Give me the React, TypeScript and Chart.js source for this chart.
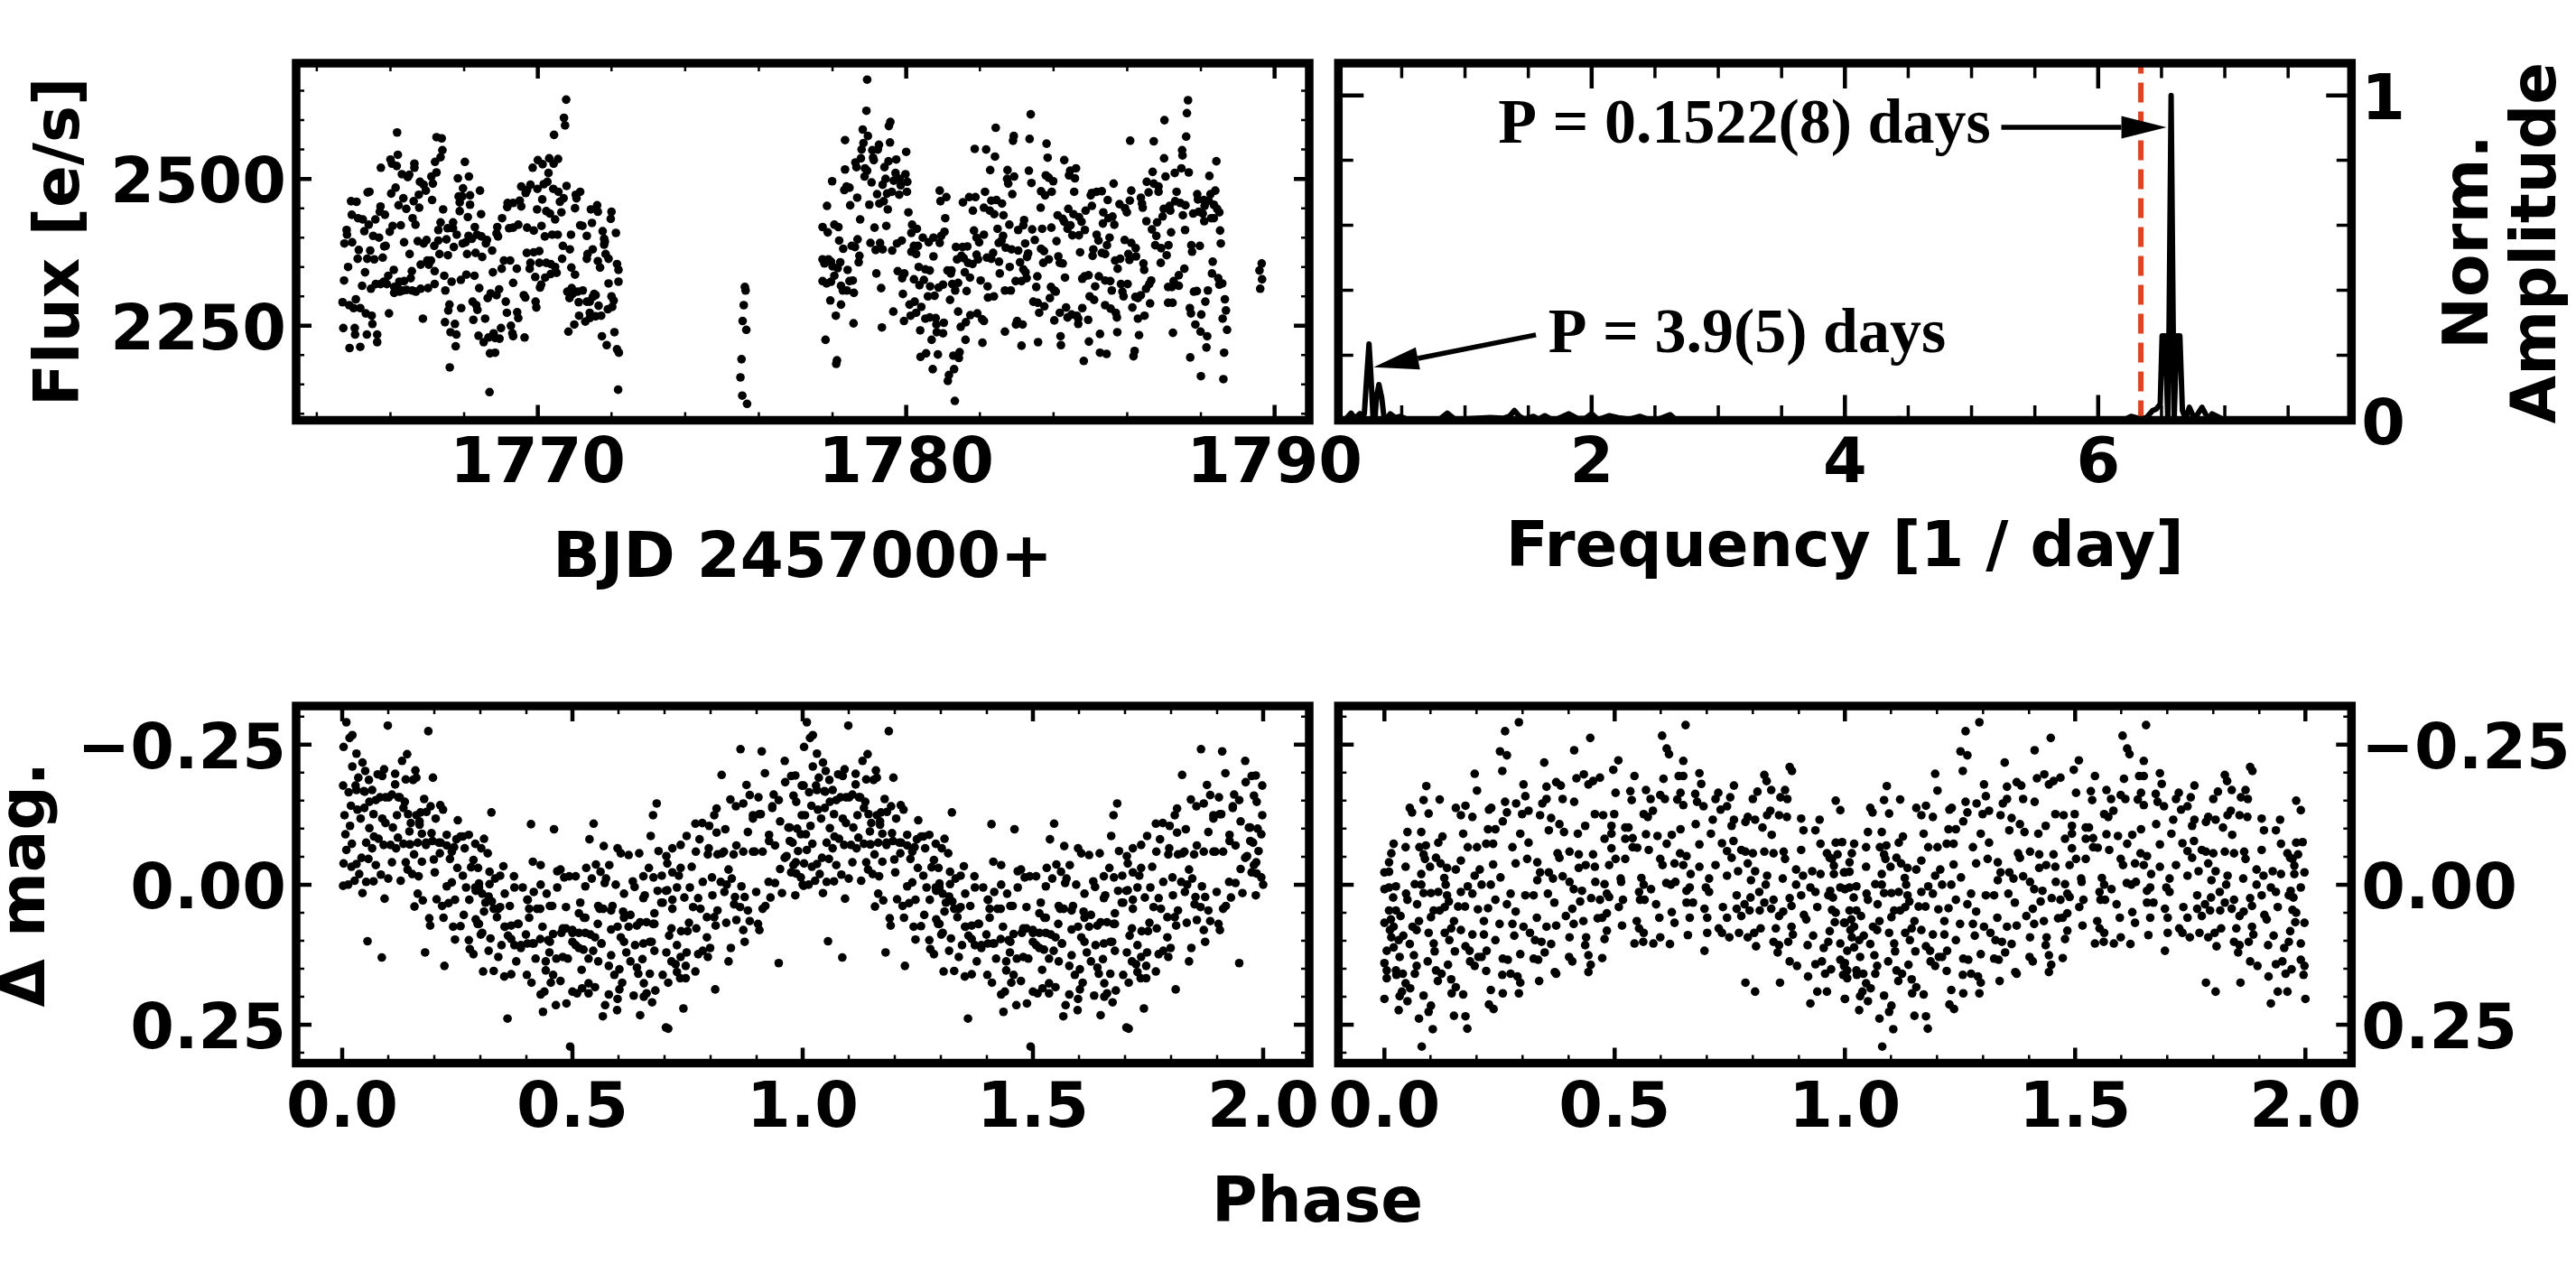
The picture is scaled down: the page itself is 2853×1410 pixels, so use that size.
import { useEffect, useRef } from "react";
import { Chart, registerables } from "chart.js";
Chart.register(...registerables);

const W = 2853, H = 1410;

// Light curve: [BJD - 2457000, flux]
const fluxPart1 = [[1764.70,2290],[1764.72,2246],[1764.74,2327],[1764.75,2390],[1764.81,2413],[1764.82,2405],[1764.85,2350],[1764.89,2212],[1764.88,2285],[1764.93,2462],[1764.96,2392],[1764.95,2439],[1765.00,2280],[1765.06,2295],[1765.08,2461],[1765.03,2246],[1765.04,2235],[1765.14,2379],[1765.11,2364],[1765.12,2433],[1765.18,2214],[1765.18,2280],[1765.23,2318],[1765.25,2431],[1765.29,2411],[1765.31,2341],[1765.36,2235],[1765.33,2271],[1765.38,2477],[1765.43,2478],[1765.41,2422],[1765.37,2364],[1765.45,2378],[1765.49,2267],[1765.47,2313],[1765.51,2253],[1765.53,2403],[1765.56,2363],[1765.59,2431],[1765.60,2321],[1765.64,2235],[1765.64,2222],[1765.69,2400],[1765.73,2453],[1765.71,2444],[1765.74,2519],[1765.73,2321],[1765.79,2366],[1765.82,2325],[1765.85,2439],[1765.83,2385],[1765.87,2386],[1765.90,2321],[1765.94,2335],[1765.96,2271],[1765.98,2410],[1766.06,2420],[1766.02,2475],[1766.00,2533],[1766.04,2526],[1766.09,2345],[1766.10,2306],[1766.10,2316],[1766.14,2485],[1766.18,2579],[1766.17,2522],[1766.20,2541],[1766.22,2455],[1766.18,2316],[1766.24,2325],[1766.25,2308],[1766.28,2421],[1766.37,2326],[1766.33,2310],[1766.44,2311],[1766.31,2508],[1766.35,2467],[1766.37,2392],[1766.43,2449],[1766.47,2503],[1766.51,2507],[1766.52,2372],[1766.55,2331],[1766.58,2343],[1766.59,2310],[1766.60,2433],[1766.63,2462],[1766.65,2526],[1766.65,2519],[1766.69,2308],[1766.68,2422],[1766.74,2394],[1766.77,2473],[1766.78,2451],[1766.80,2495],[1766.82,2354],[1766.82,2313],[1766.88,2262],[1766.90,2390],[1766.98,2396],[1766.90,2490],[1766.96,2480],[1767.00,2361],[1767.04,2354],[1767.10,2361],[1767.02,2314],[1767.11,2504],[1767.13,2464],[1767.15,2492],[1767.20,2321],[1767.20,2343],[1767.19,2386],[1767.21,2529],[1767.25,2511],[1767.25,2571],[1767.39,2569],[1767.30,2413],[1767.30,2395],[1767.33,2372],[1767.36,2537],[1767.36,2426],[1767.41,2549],[1767.43,2448],[1767.46,2335],[1767.48,2256],[1767.49,2310],[1767.52,2397],[1767.55,2416],[1767.70,2416],[1767.70,2426],[1767.56,2370],[1767.57,2276],[1767.60,2286],[1767.61,2179],[1767.63,2239],[1767.79,2235],[1767.66,2325],[1767.72,2384],[1767.75,2253],[1767.77,2215],[1767.80,2405],[1767.83,2501],[1767.85,2470],[1767.95,2470],[1767.88,2460],[1767.88,2445],[1767.92,2280],[1767.91,2328],[1767.96,2390],[1768.04,2392],[1768.06,2337],[1767.97,2484],[1768.02,2529],[1768.08,2372],[1768.10,2435],[1768.12,2403],[1768.13,2504],[1768.16,2472],[1768.16,2456],[1768.21,2398],[1768.23,2291],[1768.25,2260],[1768.28,2335],[1768.29,2418],[1768.31,2374],[1768.33,2285],[1768.36,2277],[1768.35,2405],[1768.47,2402],[1768.39,2233],[1768.41,2314],[1768.43,2480],[1768.46,2440],[1768.49,2367],[1768.53,2222],[1768.57,2262],[1768.59,2390],[1768.62,2396],[1768.64,2297],[1768.66,2230],[1768.69,2137],[1768.70,2203],[1768.84,2204],[1768.72,2305],[1768.76,2378],[1768.78,2341],[1768.80,2237],[1768.84,2229],[1768.96,2228],[1768.88,2302],[1768.90,2418],[1768.88,2407],[1768.92,2402],[1768.95,2312],[1769.00,2246],[1769.02,2347],[1769.03,2433],[1769.08,2361],[1769.25,2361],[1769.13,2291],[1769.16,2272],[1769.18,2459],[1769.33,2459],[1769.17,2452],[1769.22,2416],[1769.33,2417],[1769.47,2422],[1769.27,2250],[1769.31,2237],[1769.33,2232],[1769.33,2323],[1769.43,2347],[1769.44,2273],[1769.47,2263],[1769.51,2463],[1769.55,2453],[1769.55,2487],[1769.67,2476],[1769.71,2481],[1769.80,2490],[1769.64,2230],[1769.62,2302],[1769.66,2298],[1769.70,2374],[1769.71,2417],[1769.89,2412],[1769.78,2347],[1769.80,2357],[1769.86,2519],[1769.89,2375],[1770.04,2377],[1769.94,2291],[1769.96,2281],[1769.93,2333],[1770.00,2532],[1770.13,2525],[1769.99,2483],[1769.98,2448],[1770.04,2357],[1770.06,2315],[1770.09,2320],[1770.10,2420],[1770.12,2465],[1770.16,2491],[1770.26,2495],[1770.19,2402],[1770.20,2332],[1770.23,2357],[1770.35,2355],[1770.47,2350],[1770.51,2340],[1770.35,2338],[1770.23,2445],[1770.33,2441],[1770.29,2510],[1770.31,2535],[1770.43,2526],[1770.55,2534],[1770.39,2405],[1770.54,2405],[1770.42,2483],[1770.56,2478],[1770.44,2575],[1770.47,2431],[1770.60,2461],[1770.70,2467],[1770.64,2443],[1770.66,2364],[1770.68,2386],[1770.71,2604],[1770.74,2591],[1770.77,2635],[1770.78,2488],[1770.83,2240],[1770.80,2308],[1770.86,2297],[1770.92,2314],[1770.94,2304],[1771.08,2308],[1771.22,2310],[1770.87,2380],[1770.91,2349],[1771.01,2337],[1770.90,2405],[1770.99,2252],[1771.01,2450],[1771.03,2473],[1771.05,2467],[1771.15,2478],[1771.11,2290],[1771.12,2267],[1771.15,2421],[1771.21,2420],[1771.29,2257],[1771.33,2291],[1771.33,2403],[1771.35,2372],[1771.33,2364],[1771.41,2272],[1771.41,2263],[1771.41,2291],[1771.49,2299],[1771.53,2304],[1771.57,2302],[1771.44,2448],[1771.63,2444],[1771.61,2455],[1771.47,2425],[1771.49,2380],[1771.57,2266],[1771.72,2267],[1771.63,2360],[1771.69,2349],[1771.65,2284],[1771.74,2232],[1771.76,2411],[1771.80,2398],[1771.80,2388],[1771.82,2393],[1771.84,2372],[1771.92,2364],[1771.87,2217],[1771.92,2322],[1771.90,2278],[1772.00,2300],[1772.02,2282],[1772.06,2293],[1772.00,2444],[1771.98,2432],[1772.08,2239],[1772.12,2408],[1772.15,2355],[1772.19,2345],[1772.19,2325],[1772.15,2210],[1772.20,2204],[1772.18,2141]];
const fluxPart2 = [[1775.62,2316],[1775.64,2310],[1775.59,2285],[1775.56,2258],[1775.66,2243],[1775.53,2193],[1775.50,2162],[1775.55,2131],[1775.68,2117]];
const fluxPart3 = [[1777.73,2418],[1777.87,2409],[1777.73,2363],[1777.78,2356],[1777.89,2363],[1777.96,2359],[1778.00,2351],[1778.14,2348],[1778.21,2358],[1777.73,2326],[1777.84,2322],[1777.96,2325],[1778.05,2335],[1777.94,2293],[1777.99,2496],[1777.85,2454],[1777.81,2226],[1778.05,2422],[1778.16,2418],[1778.09,2267],[1778.12,2191],[1778.10,2185],[1778.18,2395],[1778.29,2381],[1778.23,2286],[1778.23,2318],[1778.28,2310],[1778.39,2310],[1778.46,2326],[1778.55,2327],[1778.58,2306],[1778.34,2566],[1778.34,2516],[1778.32,2481],[1778.38,2487],[1778.46,2485],[1778.48,2455],[1778.41,2345],[1778.52,2386],[1778.61,2384],[1778.57,2254],[1778.62,2528],[1778.65,2520],[1778.67,2468],[1778.68,2397],[1778.73,2369],[1778.71,2358],[1778.75,2431],[1778.77,2535],[1778.79,2550],[1778.84,2561],[1778.82,2584],[1778.87,2504],[1778.88,2518],[1778.94,2514],[1778.92,2616],[1778.94,2669],[1778.96,2573],[1779.00,2456],[1779.03,2391],[1779.06,2494],[1779.08,2549],[1779.23,2550],[1779.26,2558],[1779.10,2536],[1779.12,2532],[1779.14,2417],[1779.17,2379],[1779.29,2391],[1779.36,2380],[1779.19,2339],[1779.21,2474],[1779.27,2458],[1779.39,2462],[1779.32,2314],[1779.34,2247],[1779.36,2490],[1779.44,2500],[1779.41,2520],[1779.52,2530],[1779.46,2420],[1779.48,2475],[1779.61,2478],[1779.50,2448],[1779.53,2590],[1779.57,2597],[1779.56,2562],[1779.62,2378],[1779.65,2274],[1779.66,2497],[1779.71,2510],[1779.82,2500],[1779.73,2533],[1779.75,2390],[1779.88,2395],[1779.77,2343],[1779.89,2331],[1779.95,2339],[1779.81,2473],[1779.85,2489],[1779.91,2304],[1779.94,2258],[1779.98,2508],[1780.00,2546],[1780.03,2495],[1780.02,2478],[1780.06,2443],[1780.09,2286],[1780.23,2291],[1780.12,2267],[1780.27,2272],[1780.14,2408],[1780.16,2422],[1780.29,2415],[1780.14,2376],[1780.27,2372],[1780.21,2386],[1780.32,2386],[1780.21,2329],[1780.34,2350],[1780.52,2346],[1780.64,2344],[1780.36,2319],[1780.48,2328],[1780.38,2242],[1780.41,2282],[1780.39,2197],[1780.54,2203],[1780.45,2400],[1780.52,2262],[1780.64,2264],[1780.80,2263],[1780.59,2300],[1780.77,2301],[1780.61,2392],[1780.74,2400],[1780.91,2391],[1780.95,2403],[1781.04,2410],[1780.65,2317],[1780.69,2226],[1780.74,2368],[1780.72,2176],[1780.82,2252],[1781.02,2255],[1780.83,2239],[1781.00,2237],[1780.86,2201],[1780.88,2315],[1781.00,2320],[1780.91,2480],[1781.09,2469],[1780.93,2462],[1781.06,2433],[1781.12,2344],[1781.23,2344],[1781.21,2339],[1781.13,2156],[1781.16,2166],[1781.19,2294],[1781.25,2321],[1781.41,2323],[1781.33,2310],[1781.28,2199],[1781.45,2205],[1781.43,2195],[1781.30,2176],[1781.32,2122],[1781.35,2384],[1781.53,2384],[1781.66,2385],[1781.38,2363],[1781.50,2369],[1781.56,2365],[1781.41,2274],[1781.48,2248],[1781.62,2256],[1781.54,2460],[1781.59,2341],[1781.61,2226],[1781.64,2309],[1781.68,2357],[1781.80,2355],[1781.71,2469],[1781.88,2469],[1781.73,2332],[1781.74,2268],[1781.93,2271],[1781.81,2446],[1781.84,2412],[1781.86,2551],[1781.91,2400],[1781.98,2392],[1782.11,2405],[1781.91,2371],[1781.95,2363],[1782.02,2327],[1782.06,2261],[1782.11,2258],[1782.07,2221],[1782.11,2451],[1782.14,2478],[1782.27,2446],[1782.39,2440],[1782.17,2550],[1782.19,2366],[1782.31,2364],[1782.36,2374],[1782.21,2317],[1782.22,2298],[1782.38,2300],[1782.28,2515],[1782.31,2463],[1782.45,2464],[1782.60,2458],[1782.41,2538],[1782.43,2587],[1782.48,2415],[1782.52,2359],[1782.51,2391],[1782.59,2395],[1782.63,2403],[1782.54,2339],[1782.64,2438],[1782.68,2240],[1782.68,2310],[1782.84,2310],[1782.70,2383],[1782.86,2380],[1783.04,2378],[1782.75,2515],[1782.74,2500],[1782.77,2492],[1782.80,2422],[1782.81,2350],[1782.88,2474],[1782.90,2565],[1782.92,2573],[1782.93,2504],[1782.97,2326],[1783.13,2326],[1782.98,2252],[1783.01,2258],[1783.16,2252],[1783.04,2413],[1783.18,2421],[1783.20,2430],[1783.09,2358],[1783.18,2346],[1783.27,2331],[1783.24,2341],[1783.13,2216],[1783.23,2390],[1783.28,2367],[1783.31,2373],[1783.35,2568],[1783.38,2610],[1783.33,2514],[1783.40,2493],[1783.42,2414],[1783.69,2415],[1783.45,2291],[1783.57,2289],[1783.49,2396],[1783.53,2316],[1783.56,2334],[1783.58,2222],[1783.61,2272],[1783.65,2451],[1783.66,2479],[1783.77,2472],[1783.66,2381],[1783.74,2377],[1783.72,2357],[1783.87,2363],[1783.75,2283],[1783.81,2560],[1783.84,2536],[1783.79,2506],[1783.87,2502],[1783.99,2496],[1783.90,2297],[1783.95,2478],[1783.94,2417],[1783.93,2316],[1784.02,2310],[1784.06,2308],[1784.02,2259],[1784.08,2394],[1784.11,2438],[1784.25,2432],[1784.29,2427],[1784.13,2368],[1784.17,2357],[1784.25,2356],[1784.17,2272],[1784.34,2281],[1784.19,2232],[1784.20,2217],[1784.29,2532],[1784.31,2332],[1784.38,2264],[1784.49,2269],[1784.63,2267],[1784.67,2253],[1784.67,2262],[1784.38,2415],[1784.46,2421],[1784.40,2449],[1784.54,2440],[1784.69,2435],[1784.76,2427],[1784.42,2506],[1784.45,2514],[1784.61,2518],[1784.58,2501],[1784.51,2404],[1784.69,2404],[1784.56,2478],[1784.72,2375],[1784.78,2280],[1784.78,2330],[1784.84,2334],[1784.95,2336],[1784.82,2190],[1784.85,2413],[1784.87,2446],[1785.04,2454],[1784.94,2260],[1784.96,2223],[1784.98,2300],[1785.10,2294],[1785.01,2472],[1785.04,2476],[1785.17,2478],[1785.31,2479],[1785.06,2369],[1785.08,2380],[1785.13,2317],[1785.17,2405],[1785.22,2395],[1785.23,2334],[1785.26,2236],[1785.26,2204],[1785.44,2202],[1785.31,2374],[1785.40,2372],[1785.34,2424],[1785.35,2443],[1785.40,2285],[1785.55,2279],[1785.40,2327],[1785.54,2326],[1785.45,2387],[1785.52,2400],[1785.47,2464],[1785.49,2433],[1785.60,2436],[1785.58,2310],[1785.63,2492],[1785.65,2422],[1785.67,2361],[1785.81,2364],[1785.69,2272],[1785.72,2264],[1785.73,2239],[1785.74,2347],[1785.79,2457],[1785.94,2450],[1785.99,2443],[1785.83,2321],[1786.01,2321],[1785.87,2308],[1785.90,2300],[1785.93,2396],[1786.11,2391],[1786.23,2382],[1786.03,2372],[1786.06,2362],[1786.24,2368],[1786.08,2565],[1786.07,2463],[1786.11,2480],[1786.14,2281],[1786.17,2198],[1786.20,2207],[1786.22,2299],[1786.29,2297],[1786.37,2302],[1786.29,2262],[1786.32,2234],[1786.37,2468],[1786.40,2458],[1786.42,2451],[1786.44,2356],[1786.46,2345],[1786.47,2267],[1786.51,2313],[1786.60,2321],[1786.65,2327],[1786.53,2495],[1786.58,2477],[1786.72,2492],[1786.85,2487],[1786.85,2478],[1786.52,2428],[1786.62,2288],[1786.67,2414],[1786.69,2512],[1786.72,2564],[1786.79,2403],[1786.76,2387],[1786.92,2382],[1786.81,2426],[1786.91,2357],[1786.96,2436],[1786.99,2449],[1787.15,2454],[1787.00,2535],[1787.01,2600],[1787.04,2504],[1787.07,2370],[1787.11,2316],[1787.21,2316],[1787.11,2289],[1787.23,2289],[1787.12,2387],[1787.19,2409],[1787.17,2446],[1787.24,2238],[1787.29,2510],[1787.30,2462],[1787.44,2459],[1787.58,2455],[1787.26,2326],[1787.40,2336],[1787.40,2318],[1787.34,2478],[1787.47,2518],[1787.49,2549],[1787.50,2540],[1787.51,2438],[1787.55,2347],[1787.57,2413],[1787.60,2572],[1787.62,2612],[1787.65,2634],[1787.67,2511],[1787.70,2280],[1787.73,2271],[1787.71,2196],[1787.74,2387],[1787.76,2376],[1787.79,2441],[1787.94,2444],[1788.05,2441],[1787.81,2308],[1787.89,2309],[1787.85,2252],[1787.90,2474],[1787.92,2465],[1788.08,2464],[1788.21,2463],[1787.97,2386],[1787.99,2240],[1788.00,2164],[1788.01,2269],[1788.09,2428],[1788.12,2291],[1788.10,2454],[1788.15,2213],[1788.17,2232],[1788.19,2310],[1788.23,2505],[1788.26,2474],[1788.39,2480],[1788.28,2433],[1788.35,2433],[1788.32,2359],[1788.30,2339],[1788.35,2456],[1788.44,2449],[1788.50,2443],[1788.42,2530],[1788.47,2331],[1788.50,2320],[1788.58,2322],[1788.52,2412],[1788.54,2390],[1788.59,2262],[1788.61,2159],[1788.63,2204],[1788.65,2295],[1788.68,2276],[1788.71,2243]];
const fluxPart4 = [[1789.59,2344],[1789.65,2356],[1789.66,2329],[1789.61,2313]];

// Periodogram
const specFreq = [0,0.05,0.1,0.13,0.17,0.19,0.205,0.225,0.242,0.258,0.275,0.29,0.3,0.32,0.342,0.36,0.385,0.41,0.45,0.49,0.55,0.61,0.7,0.8,0.86,0.92,1.0,1.1,1.2,1.3,1.35,1.39,1.43,1.47,1.54,1.58,1.63,1.68,1.73,1.82,1.89,1.95,2.0,2.05,2.14,2.21,2.3,2.38,2.44,2.52,2.62,2.67,3.0,3.16,3.2,3.32,3.44,3.6,3.78,4.0,4.13,4.2,4.3,4.43,4.55,4.76,4.85,5.4,5.85,6.0,6.13,6.2,6.26,6.32,6.38,6.43,6.46,6.49,6.505,6.53,6.55,6.56,6.576,6.592,6.6,6.62,6.645,6.665,6.69,6.72,6.76,6.82,6.87,6.9,7.0,8];
const specAmp = [0,0,0.022,0.006,0.02,0.008,0.02,0.14,0.235,0.13,0,0.008,0.07,0.11,0.07,0.01,0.006,0.02,0.008,0.012,0.002,0.003,0.002,0.003,0.022,0.003,0.004,0.006,0.008,0.006,0.012,0.03,0.012,0.004,0.012,0.003,0.014,0.003,0.004,0.02,0.005,0.006,0.02,0.002,0.014,0.008,0.003,0.012,0.004,0.002,0.017,0,0,0.001,0.001,0.002,0.001,0,0.001,0,0.002,0.001,0,0.005,0,0.004,0,0,0.001,0,0.002,0,0.012,0.006,0.008,0.03,0.035,0.05,0.26,0.26,0,0.3,1,0.3,0,0.26,0.26,0.03,0.005,0.04,0.004,0.04,0.003,0.02,0,0];

// Phase-folded magnitudes: [phase, delta mag], one cycle (drawn over two)
const foldLong = [[0.009,-0.29],[0.003,-0.246],[0.002,-0.177],[0.005,-0.124],[0.007,-0.09],[0.009,-0.062],[0.003,-0.038],[0.002,0.002],[0.013,0],[0.016,-0.262],[0.022,-0.267],[0.022,-0.211],[0.014,-0.165],[0.019,-0.141],[0.017,-0.105],[0.021,-0.073],[0.02,-0.032],[0.027,-0.007],[0.031,-0.234],[0.029,-0.177],[0.033,-0.134],[0.031,-0.037],[0.037,-0.019],[0.035,-0.191],[0.044,-0.218],[0.04,-0.118],[0.042,-0.048],[0.044,0.015],[0.047,-0.167],[0.05,-0.203],[0.048,-0.137],[0.052,-0.075],[0.052,-0.005],[0.055,0.101],[0.059,-0.101],[0.058,-0.187],[0.059,-0.148],[0.057,-0.046],[0.068,-0.006],[0.065,-0.169],[0.068,-0.126],[0.069,-0.086],[0.065,-0.065],[0.073,-0.035],[0.077,-0.197],[0.082,-0.156],[0.073,-0.151],[0.079,-0.082],[0.084,-0.018],[0.086,0.13],[0.091,-0.206],[0.087,-0.194],[0.092,0.025],[0.09,-0.071],[0.087,-0.118],[0.094,-0.11],[0.1,-0.011],[0.099,-0.284],[0.105,-0.071],[0.101,-0.156],[0.108,-0.04],[0.11,-0.102],[0.115,-0.198],[0.117,-0.065],[0.115,-0.179],[0.119,-0.124],[0.125,-0.156],[0.127,-0.007],[0.121,-0.084],[0.13,-0.221],[0.133,-0.073],[0.133,-0.137],[0.138,-0.04],[0.141,-0.233],[0.138,-0.188],[0.142,-0.027],[0.146,-0.095],[0.147,-0.072],[0.152,-0.019],[0.154,-0.187],[0.149,-0.11],[0.159,-0.204],[0.157,0.039],[0.156,-0.054],[0.161,-0.191],[0.164,0.016],[0.166,-0.015],[0.168,-0.107],[0.173,-0.091],[0.173,-0.041],[0.17,-0.129],[0.175,0.028],[0.178,-0.153],[0.18,0.121],[0.182,-0.071],[0.183,-0.13],[0.187,-0.274],[0.189,0.06],[0.191,0.073],[0.192,-0.14],[0.194,-0.092],[0.197,-0.191],[0.199,-0.045],[0.201,-0.022],[0.203,-0.118],[0.205,0.026],[0.21,-0.075],[0.213,-0.142],[0.212,-0.056],[0.219,-0.134],[0.217,0.038],[0.222,0.145],[0.22,0.059],[0.227,-0.089],[0.227,0.003],[0.231,0.033],[0.234,-0.046],[0.238,-0.004],[0.241,0.075],[0.245,0.027],[0.243,-0.067],[0.251,-0.115],[0.25,-0.03],[0.245,0.098],[0.257,0.074],[0.257,-0.086],[0.262,-0.016],[0.266,-0.065],[0.264,0.054],[0.269,0.005],[0.275,-0.089],[0.275,0.099],[0.276,0.027],[0.277,0.115],[0.28,-0.031],[0.285,-0.044],[0.285,0.124],[0.289,-0.073],[0.289,0.005],[0.294,0.07],[0.295,-0.03],[0.297,-0.002],[0.301,0.089],[0.302,-0.065],[0.308,-0.082],[0.306,0.155],[0.308,0.048],[0.316,-0.056],[0.32,-0.001],[0.318,0.118],[0.322,0.096],[0.324,-0.129],[0.32,-0.023],[0.329,0.154],[0.329,0.043],[0.332,-0.011],[0.336,0.058],[0.339,0.129],[0.343,-0.016],[0.343,0.04],[0.346,0.108],[0.35,-0.033],[0.352,0.164],[0.353,0.016],[0.353,0.075],[0.359,0.239],[0.367,0.16],[0.364,0.038],[0.367,0.097],[0.373,-0.015],[0.374,0.005],[0.378,0.137],[0.383,0.07],[0.392,0.005],[0.388,0.113],[0.399,0.089],[0.401,0.161],[0.403,0.027],[0.41,-0.108],[0.411,0.175],[0.414,-0.041],[0.416,0.013],[0.413,0.105],[0.406,0.059],[0.42,0.132],[0.423,0.043],[0.431,-0.035],[0.431,0],[0.431,0.196],[0.439,0.191],[0.436,0.227],[0.442,0.137],[0.442,0.153],[0.435,0.075],[0.444,0.016],[0.456,0.038],[0.447,0.099],[0.45,0.121],[0.458,0.161],[0.453,0.175],[0.464,0.215],[0.46,-0.099],[0.467,0.005],[0.467,-0.024],[0.474,-0.027],[0.465,0.132],[0.474,0.172],[0.479,0.129],[0.49,0.132],[0.479,0.078],[0.482,-0.013],[0.493,-0.015],[0.507,-0.015],[0.487,0.212],[0.486,0.04],[0.5,0.191],[0.495,0.289],[0.5,0.081],[0.51,0.194],[0.507,0.108],[0.517,0.032],[0.521,0.185],[0.52,0.152],[0.528,0.003],[0.53,-0.03],[0.528,0.059],[0.524,0.116],[0.535,0.132],[0.535,0.194],[0.535,0.176],[0.537,-0.081],[0.546,-0.109],[0.549,0.183],[0.545,0.118],[0.542,-0.011],[0.549,0.094],[0.551,-0.036],[0.556,0.137],[0.555,0.07],[0.561,-0.023],[0.559,0.043],[0.568,-0.069],[0.566,0.235],[0.571,0.215],[0.57,-0.003],[0.563,0.105],[0.573,-0.011],[0.579,0.196],[0.58,-0.035],[0.579,0.145],[0.584,0.126],[0.587,0.038],[0.591,0.161],[0.594,0],[0.597,0.224],[0.598,0.204],[0.598,-0.065],[0.602,0.187],[0.605,-0.056],[0.608,0.175],[0.602,0.151],[0.612,0.016],[0.61,0.048],[0.605,0.094],[0.617,0.121],[0.622,-0.053],[0.626,0.137],[0.631,-0.006],[0.635,0.004],[0.633,0.198],[0.622,0.075],[0.64,0.148],[0.645,-0.056],[0.647,0.233],[0.643,0.159],[0.64,0.073],[0.652,0.133],[0.654,-0.015],[0.657,0.019],[0.655,0.2],[0.661,0.194],[0.655,0.176],[0.666,-0.03],[0.67,-0.087],[0.673,0.21],[0.675,-0.124],[0.676,-0.013],[0.683,-0.145],[0.68,0.189],[0.668,0.159],[0.678,0.118],[0.687,-0.06],[0.685,0.011],[0.678,0.051],[0.668,0.102],[0.675,0.07],[0.694,-0.016],[0.696,0.161],[0.703,0.255],[0.708,0.257],[0.704,-0.051],[0.706,-0.038],[0.704,0.121],[0.696,0.032],[0.706,0.01],[0.708,0.175],[0.717,-0.022],[0.715,0.078],[0.715,0.137],[0.717,-0.065],[0.71,0.091],[0.717,0.043],[0.724,0.142],[0.727,0.156],[0.735,-0.071],[0.741,0.221],[0.734,0.167],[0.735,-0.03],[0.727,0.005],[0.735,0.129],[0.727,0.108],[0.736,0.083],[0.75,0.083],[0.743,0.023],[0.746,0.145],[0.748,-0.087],[0.746,0.167],[0.748,0.121],[0.755,0.005],[0.759,-0.032],[0.753,0.068],[0.762,0.04],[0.767,-0.109],[0.782,-0.11],[0.767,0.155],[0.769,0.078],[0.773,0.024],[0.768,-0.059],[0.776,-0.081],[0.773,0.124],[0.783,0.118],[0.778,0.043],[0.783,-0.005],[0.792,0.058],[0.794,0.129],[0.792,0.094],[0.797,-0.105],[0.796,-0.065],[0.799,0.113],[0.803,-0.013],[0.804,0.019],[0.81,0.187],[0.808,-0.124],[0.808,0.058],[0.813,-0.136],[0.815,0.046],[0.813,-0.093],[0.824,-0.196],[0.825,-0.056],[0.822,-0.005],[0.811,0.073],[0.832,-0.099],[0.835,0],[0.834,0.068],[0.83,0.013],[0.839,0.137],[0.844,0.113],[0.843,-0.152],[0.846,-0.011],[0.839,-0.027],[0.855,-0.14],[0.853,0.022],[0.856,0.063],[0.851,0.035],[0.865,-0.242],[0.871,-0.145],[0.867,0.003],[0.864,0.04],[0.856,-0.07],[0.871,0.081],[0.874,0.102],[0.878,-0.178],[0.874,0.022],[0.885,-0.16],[0.881,0.046],[0.885,0.065],[0.881,-0.094],[0.892,-0.124],[0.904,-0.156],[0.899,0.013],[0.903,0.07],[0.906,0.081],[0.896,-0.059],[0.911,-0.238],[0.918,-0.199],[0.909,-0.126],[0.913,0.043],[0.919,0.038],[0.926,-0.005],[0.93,0.023],[0.934,-0.137],[0.937,-0.161],[0.948,0.14],[0.94,-0.003],[0.948,-0.151],[0.951,-0.113],[0.955,0.015],[0.951,-0.028],[0.962,-0.183],[0.961,-0.221],[0.965,-0.051],[0.975,-0.022],[0.975,-0.194],[0.969,-0.102],[0.972,-0.078],[0.927,-0.089],[0.984,-0.195],[0.998,-0.177],[0.98,-0.159],[0.986,-0.148],[0.998,-0.124],[0.988,-0.1],[0.978,-0.075],[0.986,-0.02],[0.996,-0.013],[1,0],[0.984,0.019],[0.99,-0.06],[0.985,-0.04],[0.996,-0.09],[0.98,-0.035],[0.031,-0.169],[0.049,-0.166],[0.094,-0.156],[0.108,-0.161],[0.122,-0.156],[0.136,-0.148],[0.143,-0.126],[0.161,-0.124],[0.168,-0.113],[0.147,-0.072],[0.164,-0.075],[0.182,-0.075],[0.196,-0.078],[0.214,-0.075],[0.227,-0.07],[0.238,-0.059],[0.248,-0.081],[0.262,-0.086],[0.29,0.011],[0.297,0.005],[0.304,0.016],[0.311,0.032],[0.318,0.021],[0.325,0.03],[0.339,0.043],[0.297,0.070],[0.304,0.086],[0.29,0.062],[0.353,0.075],[0.367,0.073],[0.381,0.07],[0.36,0.091],[0.374,0.108],[0.388,0.108],[0.402,0.105],[0.416,0.105],[0.43,0.097],[0.451,0.102],[0.458,0.088],[0.476,0.086],[0.486,0.078],[0.5,0.086],[0.514,0.086],[0.528,0.086],[0.5,0.102],[0.514,0.113],[0.539,0.089],[0.563,0.105],[0.584,0.08],[0.598,0.075],[0.612,0.102],[0.636,0.108],[0.654,0.105],[0.672,0.102],[0.626,0.054],[0.612,0.059],[0.647,0.067],[0.661,0.067],[0.678,0.07],[0.567,0.043],[0.584,0.046],[0.556,0.038],[0.514,0.051],[0.525,0.059],[0.402,0.027],[0.406,0.043],[0.43,0.043],[0.451,0.038],[0.654,0.024],[0.693,0.032],[0.703,0.011],[0.717,0.027],[0.731,-0.016],[0.794,-0.054],[0.815,-0.054],[0.829,-0.059],[0.85,-0.054],[0.871,-0.059],[0.892,-0.059],[0.913,-0.059],[0.927,-0.078],[0.94,-0.07],[0.961,-0.048],[0.972,-0.102],[0.934,-0.14],[0.892,-0.118],[0.906,-0.126]];

const foldShort = [[0,-0.022],[0.01,-0.023],[0,0.008],[0.01,0.005],[0,0.068],[0,0.14],[0,0.204],[0.005,0.118],[0.005,0.153],[0.005,0.167],[0.01,0.046],[0.01,-0.04],[0.012,0.081],[0.015,-0.056],[0.014,0.062],[0.015,0.094],[0.02,-0.073],[0.02,0.075],[0.02,0.112],[0.025,0.046],[0.025,0.003],[0.019,0.023],[0.025,0.153],[0.026,0.161],[0.031,0.224],[0.031,0.099],[0.033,0.129],[0.033,0.199],[0.038,0.191],[0.035,0.056],[0.04,0.159],[0.041,0.091],[0.046,-0.032],[0.046,-0.067],[0.046,0.176],[0.047,0.016],[0.05,-0.094],[0.05,0.027],[0.05,0.208],[0.055,-0.137],[0.06,-0.129],[0.056,0.185],[0.055,0.106],[0.061,0.075],[0.064,0.126],[0.066,0.159],[0.066,-0.001],[0.071,0.035],[0.07,0.081],[0.075,0.239],[0.076,-0.067],[0.07,0.145],[0.075,0.065],[0.08,-0.094],[0.08,-0.019],[0.08,0],[0.085,0.198],[0.085,-0.151],[0.085,-0.054],[0.088,-0.046],[0.085,0.015],[0.091,-0.176],[0.09,-0.07],[0.096,-0.127],[0.096,0.086],[0.094,0.137],[0.096,0.227],[0.099,-0.032],[0.101,0.015],[0.101,0.216],[0.101,0.058],[0.105,0.258],[0.081,0.289],[0.107,0.046],[0.107,0.105],[0.109,0.119],[0.112,0.153],[0.112,-0.048],[0.117,0.013],[0.117,-0.075],[0.116,0.172],[0.12,-0.152],[0.12,0.046],[0.122,-0.038],[0.124,0.159],[0.126,-0.086],[0.13,-0.012],[0.133,0],[0.131,0.04],[0.131,0.086],[0.136,-0.03],[0.136,0.019],[0.138,0.143],[0.14,0.03],[0.145,0.169],[0.145,0.078],[0.146,0.194],[0.141,0.099],[0.151,0.234],[0.151,0.065],[0.155,-0.137],[0.155,-0.027],[0.155,0.183],[0.153,0.119],[0.16,0.039],[0.166,-0.124],[0.166,0.081],[0.166,0.013],[0.166,-0.043],[0.171,0.196],[0.171,-0.091],[0.176,-0.141],[0.175,0.039],[0.176,0.235],[0.18,0.257],[0.176,0.11],[0.181,0.003],[0.181,-0.067],[0.186,0.137],[0.185,0.118],[0.191,0.016],[0.191,0.089],[0.191,-0.121],[0.196,-0.198],[0.201,-0.168],[0.196,-0.016],[0.196,0.145],[0.201,-0.067],[0.203,0.044],[0.204,0.129],[0.207,-0.027],[0.211,0],[0.211,0.129],[0.216,0.065],[0.216,0.089],[0.221,0.154],[0.222,0.118],[0.221,-0.073],[0.225,0.042],[0.227,-0.134],[0.232,-0.137],[0.225,-0.099],[0.227,0.214],[0.231,0.188],[0.237,0.222],[0.231,0],[0.236,-0.073],[0.236,-0.036],[0.241,0.099],[0.241,0.027],[0.241,-0.099],[0.25,0.07],[0.251,-0.238],[0.256,-0.203],[0.262,-0.274],[0.266,-0.231],[0.257,0.132],[0.256,0.161],[0.257,0.194],[0.257,-0.113],[0.262,-0.148],[0.266,-0.129],[0.252,-0.013],[0.268,0.134],[0.274,0.159],[0.266,0.035],[0.278,-0.067],[0.278,0.07],[0.286,-0.145],[0.285,-0.038],[0.274,0.016],[0.292,-0.29],[0.292,0.194],[0.289,0.164],[0.295,0.175],[0.285,0.048],[0.282,0.091],[0.295,0.124],[0.295,-0.091],[0.302,-0.179],[0.299,-0.126],[0.302,0.075],[0.306,-0.158],[0.306,0.019],[0.31,-0.046],[0.313,-0.132],[0.313,-0.075],[0.316,0.086],[0.324,0.019],[0.324,0.132],[0.327,0.099],[0.332,-0.04],[0.332,-0.008],[0.331,0.059],[0.334,0.134],[0.336,0.172],[0.338,-0.124],[0.338,-0.022],[0.341,0.102],[0.343,-0.145],[0.347,-0.218],[0.348,0.121],[0.352,-0.175],[0.352,-0.153],[0.352,0.075],[0.357,-0.097],[0.357,-0.022],[0.355,0.016],[0.362,0.106],[0.362,-0.119],[0.37,0.156],[0.373,0.159],[0.373,-0.183],[0.383,-0.177],[0.376,-0.056],[0.38,-0.048],[0.38,-0.108],[0.366,-0.011],[0.369,0.032],[0.373,0.073],[0.387,-0.153],[0.387,-0.015],[0.394,0.056],[0.39,-0.094],[0.401,0.129],[0.408,0.137],[0.402,0.094],[0.402,-0.059],[0.402,-0.005],[0.412,-0.148],[0.412,-0.24],[0.417,-0.19],[0.411,0.07],[0.408,0.043],[0.411,0.008],[0.42,-0.091],[0.422,-0.054],[0.425,0.03],[0.432,0.065],[0.433,-0.197],[0.429,0.011],[0.422,-0.03],[0.436,-0.105],[0.437,-0.035],[0.443,-0.179],[0.447,-0.262],[0.443,0.156],[0.448,0.143],[0.436,0.108],[0.438,0.094],[0.443,0.126],[0.453,-0.185],[0.453,-0.054],[0.457,-0.126],[0.458,-0.005],[0.457,-0.032],[0.449,0.024],[0.463,0.06],[0.468,-0.191],[0.468,0.027],[0.475,-0.124],[0.473,0.059],[0.473,0.131],[0.478,-0.001],[0.478,-0.082],[0.483,0.051],[0.483,0.082],[0.478,0.097],[0.483,0.016],[0.488,0.022],[0.488,-0.035],[0.493,-0.105],[0.493,-0.091],[0.493,-0.065],[0.497,-0.205],[0.502,-0.164],[0.499,-0.126],[0.502,-0.046],[0.508,-0.222],[0.509,0.04],[0.513,-0.011],[0.514,-0.005],[0.516,0.073],[0.518,0.027],[0.523,-0.082],[0.523,-0.046],[0.523,-0.102],[0.53,-0.102],[0.534,-0.167],[0.537,-0.151],[0.539,-0.083],[0.539,-0.067],[0.549,-0.066],[0.543,-0.194],[0.548,0.065],[0.553,0.078],[0.543,0.105],[0.562,0.102],[0.563,0.086],[0.553,0.013],[0.555,0.027],[0.558,-0.012],[0.565,0.027],[0.563,0],[0.568,-0.169],[0.568,-0.09],[0.563,-0.126],[0.578,-0.153],[0.574,-0.062],[0.572,-0.121],[0.583,-0.132],[0.579,0.008],[0.584,0.105],[0.593,-0.087],[0.597,0.059],[0.59,0.035],[0.599,0.094],[0.599,-0.046],[0.604,-0.035],[0.603,-0.266],[0.613,-0.243],[0.618,-0.233],[0.606,-0.189],[0.599,-0.16],[0.609,-0.153],[0.613,-0.073],[0.612,-0.003],[0.62,0.106],[0.622,0],[0.624,-0.089],[0.624,0.049],[0.63,0.068],[0.636,-0.152],[0.63,-0.038],[0.632,-0.005],[0.643,-0.099],[0.639,-0.194],[0.649,-0.194],[0.654,-0.285],[0.649,-0.221],[0.643,-0.164],[0.649,-0.142],[0.649,-0.035],[0.642,-0.056],[0.656,-0.051],[0.663,0.005],[0.656,0.011],[0.659,0.09],[0.663,0.059],[0.656,0.032],[0.67,0.032],[0.665,-0.019],[0.676,-0.108],[0.684,-0.199],[0.688,-0.18],[0.675,-0.162],[0.679,-0.148],[0.684,-0.072],[0.684,-0.032],[0.695,0.118],[0.695,0.043],[0.693,-0.14],[0.701,0.086],[0.698,0.005],[0.701,0.059],[0.705,-0.011],[0.709,-0.091],[0.713,-0.116],[0.705,0.013],[0.719,-0.153],[0.725,-0.164],[0.719,-0.035],[0.733,0.086],[0.726,0.078],[0.73,-0.134],[0.735,0.04],[0.733,-0.074],[0.744,0.059],[0.744,-0.016],[0.744,-0.14],[0.754,-0.105],[0.751,-0.156],[0.744,-0.06],[0.749,0.094],[0.754,-0.048],[0.759,-0.177],[0.758,-0.078],[0.768,-0.024],[0.765,0.019],[0.765,0.043],[0.77,0.086],[0.775,0.056],[0.759,-0.116],[0.775,-0.062],[0.784,0.175],[0.782,0.035],[0.784,-0.112],[0.784,-0.059],[0.789,0.094],[0.793,0.046],[0.795,0.023],[0.789,-0.121],[0.8,-0.153],[0.805,0.191],[0.81,-0.166],[0.805,-0.116],[0.8,-0.056],[0.789,-0.038],[0.796,-0.008],[0.805,-0.024],[0.803,0.086],[0.807,0.11],[0.815,0.046],[0.817,0.078],[0.814,0.013],[0.825,-0.196],[0.83,-0.185],[0.821,-0.102],[0.825,0.032],[0.84,-0.169],[0.825,-0.059],[0.831,-0.016],[0.828,0],[0.84,0.043],[0.845,0.027],[0.838,-0.132],[0.831,-0.124],[0.841,-0.089],[0.845,-0.056],[0.85,0.078],[0.845,0.102],[0.857,0.056],[0.857,0.108],[0.859,0.175],[0.854,0.121],[0.866,0.048],[0.865,-0.011],[0.87,-0.169],[0.86,-0.156],[0.875,-0.153],[0.857,-0.124],[0.874,-0.121],[0.867,-0.059],[0.87,-0.046],[0.88,-0.21],[0.885,-0.203],[0.88,0.024],[0.88,0.137],[0.877,0.102],[0.894,0],[0.884,0.038],[0.884,0.075],[0.896,0.145],[0.887,0.089],[0.905,-0.118],[0.905,0.019],[0.894,-0.027],[0.905,-0.062],[0.909,-0.016],[0.911,0.054],[0.916,0.062],[0.91,-0.097],[0.92,0.164],[0.925,0.212],[0.919,0.108],[0.925,0.005],[0.929,-0.024],[0.931,0.091],[0.936,0.013],[0.936,0.142],[0.94,0.04],[0.94,0.191],[0.945,-0.116],[0.936,-0.097],[0.947,-0.019],[0.947,-0.073],[0.954,0.113],[0.95,0.137],[0.961,0.191],[0.961,-0.056],[0.957,0.159],[0.964,0.019],[0.964,0.102],[0.967,-0.048],[0.967,0.083],[0.98,-0.15],[0.99,-0.133],[0.98,-0.075],[0.994,-0.076],[0.984,-0.054],[0.972,-0.046],[0.976,-0.034],[0.976,-0.019],[0.998,-0.022],[0.968,0.011],[0.974,0.023],[0.99,0.005],[0.972,0.045],[0.98,0.05],[0.978,0.067],[0.998,0.068],[0.99,0.105],[0.99,0.134],[0.97,0.151],[0.998,0.145],[0.996,0.161],[1,0.204]];

const seq = (a: number, b: number, s: number) => { const o: number[] = []; for (let i = 0; Math.round((a + i * s) * 1e6) / 1e6 <= b; i++) o.push(Math.round((a + i * s) * 1e6) / 1e6 + 0); return o; };
const SANS = '"DejaVu Sans"';
const SERIF = '"Liberation Serif"';
const TICK = 70, TITLE = 69;

const panelPlugin = {
  id: "panel",
  afterDatasetsDraw(chart: any, _a: any, o: any) {
    const { ctx, chartArea: a, scales } = chart;
    ctx.save();
    ctx.strokeStyle = "#000"; ctx.lineCap = "butt";
    const tk = o.tick;
    const xs = scales.x, ys = scales.y;
    for (const t of xs.ticks) {
      const maj = o.xMajor.includes(t.value);
      const len = maj ? tk.maj : tk.min; const x = xs.getPixelForValue(t.value);
      ctx.lineWidth = maj ? tk.wMaj : tk.wMin;
      ctx.beginPath(); ctx.moveTo(x, a.top); ctx.lineTo(x, a.top + len); ctx.moveTo(x, a.bottom); ctx.lineTo(x, a.bottom - len); ctx.stroke();
    }
    for (const t of ys.ticks) {
      const maj = o.yMajor.includes(t.value);
      const len = maj ? tk.maj : tk.min; const y = ys.getPixelForValue(t.value);
      ctx.lineWidth = maj ? tk.wMaj : tk.wMin;
      ctx.beginPath(); ctx.moveTo(a.left, y); ctx.lineTo(a.left + len, y); ctx.moveTo(a.right, y); ctx.lineTo(a.right - len, y); ctx.stroke();
    }
    ctx.lineWidth = 9.5;
    ctx.strokeRect(a.left, a.top, a.right - a.left, a.bottom - a.top);
    for (const arrow of o.arrows || []) {
      const x0 = xs.getPixelForValue(arrow.from[0]), y0 = ys.getPixelForValue(arrow.from[1]);
      const x1 = xs.getPixelForValue(arrow.to[0]), y1 = ys.getPixelForValue(arrow.to[1]);
      const ang = Math.atan2(y1 - y0, x1 - x0), L = 50, hw = 12.5;
      ctx.lineWidth = 5.5;
      ctx.beginPath(); ctx.moveTo(x0, y0); ctx.lineTo(x1 - L * Math.cos(ang), y1 - L * Math.sin(ang)); ctx.stroke();
      ctx.fillStyle = "#000";
      ctx.beginPath(); ctx.moveTo(x1, y1);
      ctx.lineTo(x1 - L * Math.cos(ang) - hw * Math.sin(ang), y1 - L * Math.sin(ang) + hw * Math.cos(ang));
      ctx.lineTo(x1 - L * Math.cos(ang) + hw * Math.sin(ang), y1 - L * Math.sin(ang) - hw * Math.cos(ang));
      ctx.closePath(); ctx.fill();
    }
    ctx.fillStyle = "#000";
    for (const n of o.notes || []) {
      ctx.save();
      ctx.font = n.font; ctx.textAlign = "center"; ctx.textBaseline = "middle";
      ctx.translate(n.x, n.y); ctx.rotate(n.rot || 0);
      ctx.fillText(n.text, 0, 0);
      ctx.restore();
    }
    ctx.restore();
  },
};

function build(canvas: HTMLCanvasElement, p: any) {
  const hX = p.xTitle ? p.xTitleY + TITLE * 0.6 - p.B : 120;
  const wY = p.yTitle ? p.L - (p.yTitleX - TITLE * 0.6) : 240;
  const isRight = p.yPos === "right";
  return new Chart(canvas, {
    data: { datasets: p.datasets },
    plugins: [panelPlugin],
    options: {
      animation: false, responsive: false, maintainAspectRatio: false,
      layout: { padding: { left: isRight ? p.L : p.L - wY, top: p.T, right: isRight ? W - p.R - wY : W - p.R, bottom: H - p.B - hX } },
      plugins: { legend: { display: false }, tooltip: { enabled: false }, panel: { tick: p.tick, xMajor: p.xMajor, yMajor: p.yMajor, arrows: p.arrows, notes: p.notes } } as any,
      scales: {
        x: {
          type: "linear", min: p.xMin, max: p.xMax, position: "bottom",
          grid: { display: false }, border: { display: false },
          afterBuildTicks: (s: any) => { s.ticks = p.xTicks.map((v: number) => ({ value: v })); },
          afterFit: (s: any) => { s.height = hX; },
          ticks: { autoSkip: false, maxRotation: 0, minRotation: 0, padding: p.xPad, color: "#000", font: { family: SANS, weight: "bold", size: TICK }, callback: (v: any) => p.xLabels[String(v)] ?? "" },
          title: p.xTitle ? { display: true, text: p.xTitle, color: "#000", padding: 0, font: { family: SANS, weight: "bold", size: TITLE } } : { display: false },
        },
        y: {
          type: "linear", min: p.yMin, max: p.yMax, position: p.yPos, reverse: !!p.yRev,
          grid: { display: false }, border: { display: false },
          afterBuildTicks: (s: any) => { s.ticks = p.yTicks.map((v: number) => ({ value: v })); },
          afterFit: (s: any) => { s.width = wY; },
          ticks: { autoSkip: false, padding: p.yPad, labelOffset: 8, color: "#000", font: { family: SANS, weight: "bold", size: TICK }, callback: (v: any) => p.yLabels[String(v)] ?? "" },
          title: p.yTitle ? { display: true, text: p.yTitle, color: "#000", padding: 0, font: { family: SANS, weight: "bold", size: TITLE } } : { display: false },
        },
      },
    } as any,
  });
}

const dots = (data: number[][]) => ({ type: "scatter", data: data.map(([x, y]) => ({ x, y })), pointRadius: 4.8, pointHoverRadius: 4.8, borderWidth: 0, backgroundColor: "#000", clip: false });
const twice = (data: number[][]) => [...data, ...data.map(([x, y]) => [x + 1, y])];

const thinTick = { maj: 17, min: 9, wMaj: 4.5, wMin: 2.5 };
const longTick = { maj: 28, min: 16.5, wMaj: 4.5, wMin: 3.5 };
const phaseLabels = { "0": "0.0", "0.5": "0.5", "1": "1.0", "1.5": "1.5", "2": "2.0" };
const magLabels = { "-0.25": "\u22120.25", "0": "0.00", "0.25": "0.25" };

export default function App() {
  const a = useRef<HTMLCanvasElement>(null), b = useRef<HTMLCanvasElement>(null), c = useRef<HTMLCanvasElement>(null), d = useRef<HTMLCanvasElement>(null);
  useEffect(() => {
    const charts = [
      build(a.current!, {
        L: 328, R: 1450, T: 70, B: 465.5, xMin: 1763.44, xMax: 1790.94, yMin: 2089, yMax: 2697, yPos: "left",
        xTicks: seq(1764, 1790, 2), yTicks: seq(2100, 2650, 50), xMajor: [1770, 1780, 1790], yMajor: [2250, 2500],
        xLabels: { "1770": "1770", "1780": "1780", "1790": "1790" }, yLabels: { "2250": "2250", "2500": "2500" },
        xPad: 0, yPad: 3, tick: thinTick, xTitle: "BJD 2457000+", xTitleY: 621, yTitle: "Flux [e/s]", yTitleX: 69,
        datasets: [dots([...fluxPart1, ...fluxPart2, ...fluxPart3, ...fluxPart4])],
      }),
      build(b.current!, {
        L: 1482.3, R: 2604.3, T: 70, B: 465.5, xMin: 0, xMax: 8, yMin: 0, yMax: 1.099, yPos: "right",
        xTicks: seq(0, 8, 0.5), yTicks: seq(0, 1, 0.2), xMajor: [2, 4, 6], yMajor: [0, 1],
        xLabels: { "2": "2", "4": "4", "6": "6" }, yLabels: { "0": "0", "1": "1" },
        xPad: 0, yPad: 3, tick: longTick, xTitle: "Frequency [1 / day]", xTitleY: 609,
        arrows: [{ from: [5.235, 0.902], to: [6.54, 0.902] }, { from: [1.56, 0.263], to: [0.278, 0.163] }],
        notes: [
          { text: "P = 0.1522(8) days", x: 1932, y: 140, font: `bold 70px ${SERIF}` },
          { text: "P = 3.9(5) days", x: 1935, y: 372, font: `bold 70px ${SERIF}` },
          { text: "Norm.", x: 2737, y: 268, rot: -Math.PI / 2, font: `bold ${TITLE}px ${SANS}` },
          { text: "Amplitude", x: 2812, y: 269, rot: -Math.PI / 2, font: `bold ${TITLE}px ${SANS}` },
        ],
        datasets: [
          { type: "line", data: [{ x: 6.337, y: 0 }, { x: 6.337, y: 1.099 }], borderColor: "#E8401C", borderWidth: 6, borderDash: [22, 10], pointRadius: 0 },
          { type: "line", data: specFreq.map((x, i) => ({ x, y: specAmp[i] })), borderColor: "#000", borderWidth: 6, borderJoinStyle: "round", pointRadius: 0, tension: 0 },
        ],
      }),
      build(c.current!, {
        L: 328, R: 1450, T: 782, B: 1177.5, xMin: -0.1, xMax: 2.1, yMin: -0.319, yMax: 0.3185, yRev: true, yPos: "left",
        xTicks: seq(0, 2, 0.1), yTicks: seq(-0.3, 0.3, 0.05), xMajor: [0, 0.5, 1, 1.5, 2], yMajor: [-0.25, 0, 0.25],
        xLabels: phaseLabels, yLabels: magLabels, xPad: 2, yPad: 3, tick: thinTick, yTitle: "\u0394 mag.", yTitleX: 31,
        notes: [{ text: "Phase", x: 1459, y: 1335, font: `bold ${TITLE}px ${SANS}` }],
        datasets: [dots(twice(foldLong))],
      }),
      build(d.current!, {
        L: 1482.3, R: 2604.3, T: 782, B: 1177.5, xMin: -0.1, xMax: 2.1, yMin: -0.319, yMax: 0.3185, yRev: true, yPos: "right",
        xTicks: seq(0, 2, 0.1), yTicks: seq(-0.3, 0.3, 0.05), xMajor: [0, 0.5, 1, 1.5, 2], yMajor: [-0.25, 0, 0.25],
        xLabels: phaseLabels, yLabels: magLabels, xPad: 2, yPad: 3, tick: thinTick,
        datasets: [dots(twice(foldShort))],
      }),
    ];
    return () => charts.forEach((ch) => ch.destroy());
  }, []);
  const st: any = { position: "absolute", left: 0, top: 0, width: W, height: H };
  return (
    <div style={{ position: "fixed", left: 0, top: 0, width: W, height: H, background: "#fff", overflow: "hidden" }}>
      <canvas ref={a} width={W} height={H} style={st} />
      <canvas ref={b} width={W} height={H} style={st} />
      <canvas ref={c} width={W} height={H} style={st} />
      <canvas ref={d} width={W} height={H} style={st} />
    </div>
  );
}
